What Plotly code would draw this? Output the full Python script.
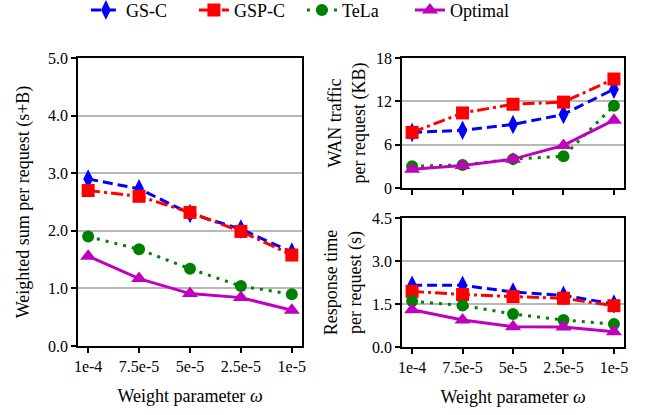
import plotly.graph_objects as go

weights = ["1e-4", "7.5e-5", "5e-5", "2.5e-5", "1e-5"]

ws_gsc = [2.90, 2.73, 2.30, 2.03, 1.63]
ws_gspc = [2.70, 2.60, 2.32, 1.99, 1.58]
ws_tela = [1.90, 1.68, 1.34, 1.04, 0.90]
ws_opt = [1.56, 1.17, 0.91, 0.84, 0.62]

wan_gsc = [7.7, 8.0, 8.8, 10.2, 13.7]
wan_gspc = [7.7, 10.4, 11.6, 11.9, 15.1]
wan_tela = [3.0, 3.2, 4.0, 4.4, 11.4]
wan_opt = [2.6, 3.1, 4.0, 5.9, 9.4]

rt_gsc = [2.15, 2.15, 1.92, 1.80, 1.50]
rt_gspc = [1.94, 1.83, 1.76, 1.70, 1.44]
rt_tela = [1.60, 1.45, 1.15, 0.94, 0.80]
rt_opt = [1.30, 0.94, 0.71, 0.70, 0.53]

names = ["GS-C", "GSP-C", "TeLa", "Optimal"]
colors = ["#0000ff", "#ff0000", "#008000", "#bf00bf"]
dashes = ["10px,5px", "12px,4px,3px,4px", "3px,6px", "solid"]
symbols = ["diamond-tall", "square", "circle", "triangle-up"]
msizes = [14, 13, 12, 14]

x = list(range(len(weights)))
fig = go.Figure()

panels = [
    ("x", "y", [ws_gsc, ws_gspc, ws_tela, ws_opt]),
    ("x2", "y2", [wan_gsc, wan_gspc, wan_tela, wan_opt]),
    ("x3", "y3", [rt_gsc, rt_gspc, rt_tela, rt_opt]),
]
for pi, (xa, ya, series) in enumerate(panels):
    for i, vals in enumerate(series):
        fig.add_trace(go.Scatter(
            x=x, y=vals, xaxis=xa, yaxis=ya, name=names[i],
            mode="lines+markers", showlegend=(pi == 0),
            line=dict(color=colors[i], width=3, dash=dashes[i]),
            marker=dict(symbol=symbols[i], size=msizes[i], color=colors[i]),
        ))

font = "serif"
tf = dict(family=font, size=16, color="black")
ttl = dict(family=font, size=18, color="black")
axcommon = dict(showline=True, linecolor="black", linewidth=1.5, mirror=True,
                ticks="outside", ticklen=5, tickwidth=1.5, tickcolor="black",
                tickfont=tf, zeroline=False)
xcommon = dict(axcommon, range=[-0.2, 4.2], tickvals=x, ticktext=weights, showgrid=False)
ycommon = dict(axcommon, showgrid=True, gridcolor="#b8b8b8", gridwidth=1.5)

fig.update_layout(
    width=646, height=415,
    margin=dict(l=0, r=0, t=0, b=0, autoexpand=False),
    paper_bgcolor="white", plot_bgcolor="white",
    font=dict(family=font, size=16, color="black"),
    xaxis=dict(xcommon, domain=[0.1207, 0.4675], anchor="y",
               title=dict(text="Weight parameter <i>ω</i>", font=ttl, standoff=15)),
    yaxis=dict(ycommon, domain=[0.1663, 0.860], anchor="x", range=[0, 5],
               tickvals=[0, 1, 2, 3, 4, 5], ticktext=["0.0", "1.0", "2.0", "3.0", "4.0", "5.0"],
               title=dict(text="Weighted sum per request (s+B)", font=ttl, standoff=14)),
    xaxis2=dict(xcommon, domain=[0.6223, 0.966], anchor="y2", showticklabels=False),
    yaxis2=dict(ycommon, domain=[0.547, 0.860], anchor="x2", range=[0, 18],
                tickvals=[0, 6, 12, 18],
                title=dict(text="WAN traffic<br>per request (KB)", font=ttl, standoff=6)),
    xaxis3=dict(xcommon, domain=[0.6223, 0.966], anchor="y3",
                title=dict(text="Weight parameter <i>ω</i>", font=ttl, standoff=15)),
    yaxis3=dict(ycommon, domain=[0.1639, 0.4747], anchor="x3", range=[0, 4.5],
                tickvals=[0, 1.5, 3, 4.5], ticktext=["0.0", "1.5", "3.0", "4.5"],
                title=dict(text="Response time<br>per request (s)", font=ttl, standoff=6)),
    legend=dict(orientation="h", x=0.133, xanchor="left", y=1.02, yanchor="top",
                font=dict(family=font, size=18, color="black"), bgcolor="rgba(0,0,0,0)",
                itemwidth=30, entrywidth=63),
)

fig.write_html("out.html", config={"displayModeBar": False},
               post_script="document.body.style.margin='0';")
